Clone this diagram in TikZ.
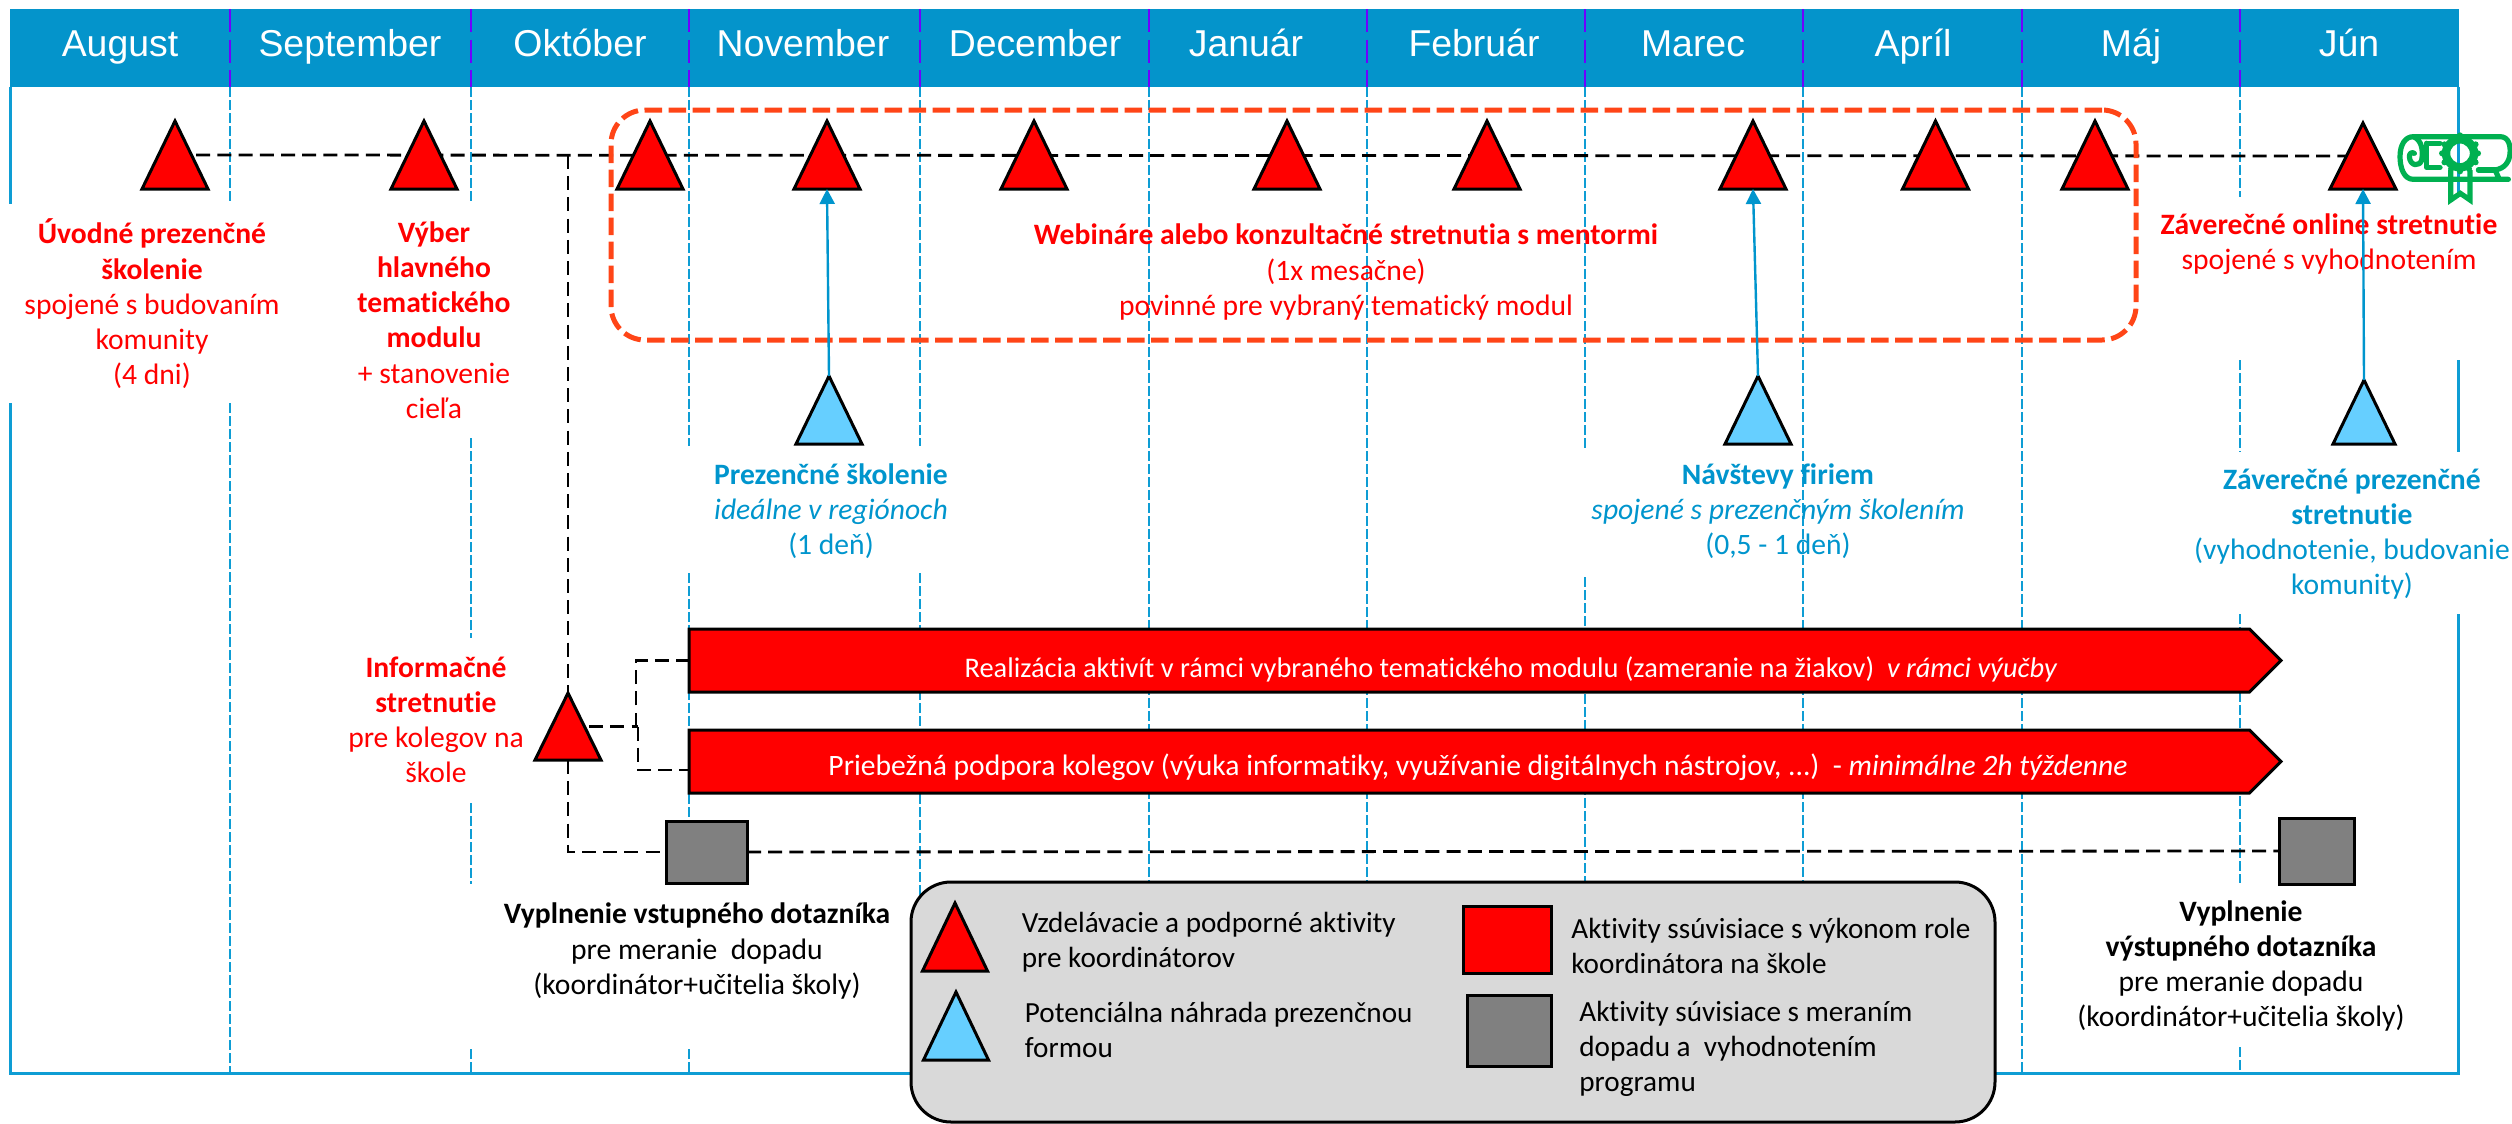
\documentclass[tikz,border=0pt]{standalone}
\usepackage{fontspec}
\setmainfont[Ligatures=NoCommon]{Carlito}
\newfontfamily\headfont{Liberation Sans}
\usetikzlibrary{shapes.geometric,shapes.symbols,arrows.meta,calc}
\definecolor{headblue}{HTML}{0494CB}
\definecolor{gridblue}{HTML}{0E9DD4}
\definecolor{headdiv}{HTML}{6F00FF}
\definecolor{txtblue}{HTML}{0095CD}
\definecolor{triblue}{HTML}{66CFFF}
\definecolor{boxorange}{HTML}{FF4517}
\definecolor{legendgray}{HTML}{D9D9D9}
\definecolor{sealgreen}{HTML}{00B050}
\pgfdeclarelayer{grid}
\pgfdeclarelayer{conn}
\pgfsetlayers{grid,conn,main}
\tikzset{
  tribase/.style={isosceles triangle, isosceles triangle stretches, shape border rotate=90,
    inner sep=0pt, outer sep=0pt, draw=black, line width=1.5pt, anchor=lower side,
    minimum width=33pt, minimum height=34pt},
  trired/.style={tribase, fill=red},
  triblu/.style={tribase, fill=triblue},
  griddash/.style={draw=gridblue, line width=1.1pt, dash pattern=on 5pt off 1.5pt},
  headdash/.style={draw=headdiv, line width=1.1pt, dash pattern=on 11.5pt off 3.75pt},
  frameline/.style={draw=gridblue, line width=1.5pt},
  blackdash/.style={draw=black, line width=1.4pt, dash pattern=on 7pt off 3.6pt},
  upar/.style={draw=txtblue, line width=1.2pt, -{Triangle[length=7.5pt,width=7.5pt]}},
  month/.style={text=white, font=\headfont\fontsize{18.7}{22}\selectfont, inner sep=0pt, anchor=base},
  body/.style={font=\fontsize{14.8}{17.6}\selectfont, align=center, inner sep=0pt},
  legtext/.style={font=\fontsize{14.6}{17.6}\selectfont, align=left, inner sep=0pt, anchor=west, text=black},
  barbody/.style={signal, signal to=east, signal from=nowhere, signal pointer angle=90,
    draw=black, fill=red, line width=1.5pt, inner sep=0pt, outer sep=0pt, anchor=west,
    minimum width=796pt, minimum height=31.5pt},
  sq/.style={draw=black, line width=1.5pt, inner sep=0pt, outer sep=0pt},
}
\begin{document}
\begin{tikzpicture}[x=0.5pt,y=-0.5pt]
\useasboundingbox (0,0) rectangle (2512,1124);

% header band
\node[fill=headblue, draw=none, inner sep=0pt, minimum width=1224.5pt, minimum height=39pt] (head) at (1234.5,48) {};
\node[month] (mAug) at (120,56) {August};
\node[month] (mSep) at (350,56) {September};
\node[month] (mOkt) at (580,56) {Október};
\node[month] (mNov) at (803,56) {November};
\node[month] (mDec) at (1035,56) {December};
\node[month] (mJan) at (1246,56) {Január};
\node[month] (mFeb) at (1474,56) {Február};
\node[month] (mMar) at (1693,56) {Marec};
\node[month] (mApr) at (1913,56) {Apríl};
\node[month] (mMaj) at (2131,56) {Máj};
\node[month] (mJun) at (2349,56) {Jún};
\foreach \xx in {230,471,689,920,1149,1367,1585,1803,2022,2240}
  \draw[headdash] (\xx,9) -- (\xx,87);

\begin{pgfonlayer}{grid}
  % frame
  \draw[frameline] (10.5,87) -- (10.5,204);
  \draw[frameline] (10.5,403) -- (10.5,1073) -- (2458,1073) -- (2458,614);
  \draw[frameline] (2458,360) -- (2458,452);
  \draw[frameline] (2458,87) -- (2458,197);
  % month dividers
  \draw[griddash] (230,87) -- (230,204);
  \draw[griddash] (230,403) -- (230,1073);
  \draw[griddash] (471,87) -- (471,201);
  \draw[griddash] (471,438) -- (471,638);
  \draw[griddash] (471,803) -- (471,884);
  \draw[griddash] (471,1049) -- (471,1073);
  \draw[griddash] (689,87) -- (689,446);
  \draw[griddash] (689,573) -- (689,884);
  \draw[griddash] (689,1049) -- (689,1073);
  \draw[griddash] (920,87) -- (920,446);
  \draw[griddash] (920,573) -- (920,1073);
  \draw[griddash] (1149,87) -- (1149,1073);
  \draw[griddash] (1367,87) -- (1367,1073);
  \draw[griddash] (1585,87) -- (1585,449);
  \draw[griddash] (1585,577) -- (1585,1073);
  \draw[griddash] (1803,87) -- (1803,1073);
  \draw[griddash] (2022,87) -- (2022,1073);
  \draw[griddash] (2240,87) -- (2240,197);
  \draw[griddash] (2240,360) -- (2240,452);
  \draw[griddash] (2240,614) -- (2240,883);
  \draw[griddash] (2240,1047) -- (2240,1073);
\end{pgfonlayer}

% webinar frame
\node[draw=boxorange, line width=2.5pt, rounded corners=17pt, dash pattern=on 8.75pt off 3.25pt,
      inner sep=0pt, minimum width=762.5pt, minimum height=115pt] (webbox) at (1373.5,225) {};

% red triangles along the top
\node[trired] (tA) at (175,189) {};
\node[trired] (tB) at (424,189) {};
\node[trired] (tC) at (650,189) {};
\node[trired] (tD) at (827,189) {};
\node[trired] (tE) at (1034,189) {};
\node[trired] (tF) at (1287,189) {};
\node[trired] (tG) at (1487,189) {};
\node[trired] (tH) at (1753,189) {};
\node[trired] (tI) at (1935.5,189) {};
\node[trired] (tJ) at (2095,189) {};
\node[trired, minimum height=33pt] (tK) at (2363,189) {};

% blue triangles
\node[triblu] (bA) at (829,444) {};
\node[triblu] (bB) at (1758,444) {};
\node[triblu, minimum width=31pt, minimum height=32pt] (bC) at (2364,444) {};

% info triangle
\node[trired, minimum height=33.5pt] (tInfo) at (568,760) {};

% task bars
\node[barbody] (barA) at (689,660.5) {};
\node[barbody] (barB) at (689,761.5) {};
\node[text=white, font=\fontsize{14.2}{17.6}\selectfont, inner sep=0pt] (barAtext) at (1511,669)
  {Realizácia aktivít v rámci vybraného tematického modulu (zameranie na žiakov)\ \ \textit{v rámci výučby}};
\node[text=white, font=\fontsize{14.8}{17.6}\selectfont, inner sep=0pt] (barBtext) at (1478,767)
  {Priebežná podpora kolegov (výuka informatiky, využívanie digitálnych nástrojov, ...)\ \ - \textit{minimálne 2h týždenne}};

% questionnaire squares
\node[sq, fill=gray, minimum width=40.5pt, minimum height=31pt] (gA) at (706.5,852) {};
\node[sq, fill=gray, minimum width=37.5pt, minimum height=33pt] (gB) at (2316.5,851) {};

% connectors
\coordinate (midA) at ($(tA.apex)!.5!(tA.lower side)$);
\coordinate (midK) at ($(tK.apex)!.5!(tK.lower side)$);
\coordinate (midInfo) at ($(tInfo.apex)!.5!(tInfo.lower side)$);
\coordinate (forkA) at (636,726.5);
\coordinate (forkB) at (638,726.5);
\begin{pgfonlayer}{conn}
  \draw[blackdash] (midA) -- (midK);
  \draw[blackdash] (midA -| tInfo.apex) -- (tInfo.apex);
  \draw[blackdash] (midInfo) -- (forkB);
  \draw[blackdash] (forkA) |- (barA.west);
  \draw[blackdash] (forkB) |- ([yshift=-4.25pt]barB.west);
  \draw[blackdash] (tInfo.lower side) |- (gA.west);
  \draw[blackdash] (gA.east) -- (gB.west);
\end{pgfonlayer}

% texts
\node[body, text=red] (lblUvod) at (152,304) {\textbf{Úvodné prezenčné}\\\textbf{školenie}\\spojené s budovaním\\komunity\\(4 dni)};
\node[body, text=red] (lblVyber) at (434,320) {\textbf{Výber}\\\textbf{hlavného}\\\textbf{tematického}\\\textbf{modulu}\\+ stanovenie\\cieľa};
\node[body, text=red] (lblWeb) at (1346,272) {\textbf{Webináre alebo konzultačné stretnutia s mentormi}\\(1x mesačne)\\povinné pre vybraný tematický modul};
\node[body, text=red] (lblZavOn) at (2329,244) {\textbf{Záverečné online stretnutie}\\spojené s vyhodnotením};
\node[body, text=txtblue] (lblPrez) at (831,511) {\textbf{Prezenčné školenie}\\\textit{ideálne v regiónoch}\\(1 deň)};
\node[body, text=txtblue] (lblNav) at (1778,511) {\textbf{Návštevy firiem}\\\textit{spojené s prezenčným školením}\\(0,5 - 1 deň)};
\node[body, text=txtblue] (lblZavPr) at (2352,534) {\textbf{Záverečné prezenčné}\\\textbf{stretnutie}\\(vyhodnotenie, budovanie\\komunity)};
\node[body, text=red] (lblInfo) at (436,720) {\textbf{Informačné}\\\textbf{stretnutie}\\pre kolegov na\\škole};
\node[body, text=black] (lblVst) at (697,951) {\textbf{Vyplnenie vstupného dotazníka}\\pre meranie\ \ dopadu\\(koordinátor+učitelia školy)};
\node[body, text=black] (lblVys) at (2241,966) {\textbf{Vyplnenie}\\\textbf{výstupného dotazníka}\\pre meranie dopadu\\(koordinátor+učitelia školy)};

% vertical arrows
\draw[upar] (bA.apex) -- (tD.lower side);
\draw[upar] (bB.apex) -- (tH.lower side);
\draw[upar] (bC.apex) -- (tK.lower side);

% legend
\node[draw=black, fill=legendgray, line width=1.5pt, rounded corners=20pt, inner sep=0pt,
      minimum width=542pt, minimum height=120pt] (legend) at (1453,1002) {};
\node[trired, minimum width=32.5pt, minimum height=34pt] (lgA) at (955,971) {};
\node[triblu, minimum width=32.5pt, minimum height=34pt] (lgB) at (956,1060) {};
\node[sq, fill=red, minimum width=44pt, minimum height=33.5pt] (lgC) at (1507,939.5) {};
\node[sq, fill=gray, minimum width=42pt, minimum height=35.5pt] (lgD) at (1509,1030.5) {};
\node[legtext] (lgAt) at (1021.5,942) {Vzdelávacie a podporné aktivity\\pre koordinátorov};
\node[legtext] (lgBt) at (1024.5,1030) {Potenciálna náhrada prezenčnou\\formou};
\node[legtext] (lgCt) at (1571,946) {Aktivity ssúvisiace s výkonom role\\koordinátora na škole};
\node[legtext] (lgDt) at (1579,1049) {Aktivity súvisiace s meraním\\dopadu a\ \ vyhodnotením\\programu};

% diploma icon
\begin{scope}[shift={(2380,120)},x=0.1667pt,y=-0.1667pt]
  \tikzset{every path/.style={draw=sealgreen, line width=2.6pt, line cap=round, line join=round}}
  \draw (385,178) -- (100,178) .. controls (70,178) and (60,140) .. (60,110)
        .. controls (60,75) and (75,50) .. (100,50) -- (360,50)
        .. controls (385,50) and (392,75) .. (390,100) .. controls (388,125) and (375,145) .. (345,150) -- (358,178);
  \draw (100,50) .. controls (125,60) and (130,90) .. (125,120)
        .. controls (120,140) and (90,140) .. (88,110) .. controls (88,100) and (95,95) .. (103,100);
  \draw (140,70) -- (180,70);
  \draw (140,70) -- (140,142) -- (180,142);
  \draw (295,150) -- (345,150);
  \draw[line cap=butt, line join=miter] (212,150) -- (212,240) -- (241,220) -- (270,240) -- (270,150);
  \draw[line width=4.2pt] (240,100) circle (42);
  \foreach \a in {0,30,...,330}
    \fill[draw=none, sealgreen] (240,100) ++(\a:54) circle (9);
\end{scope}
\end{tikzpicture}
\end{document}
